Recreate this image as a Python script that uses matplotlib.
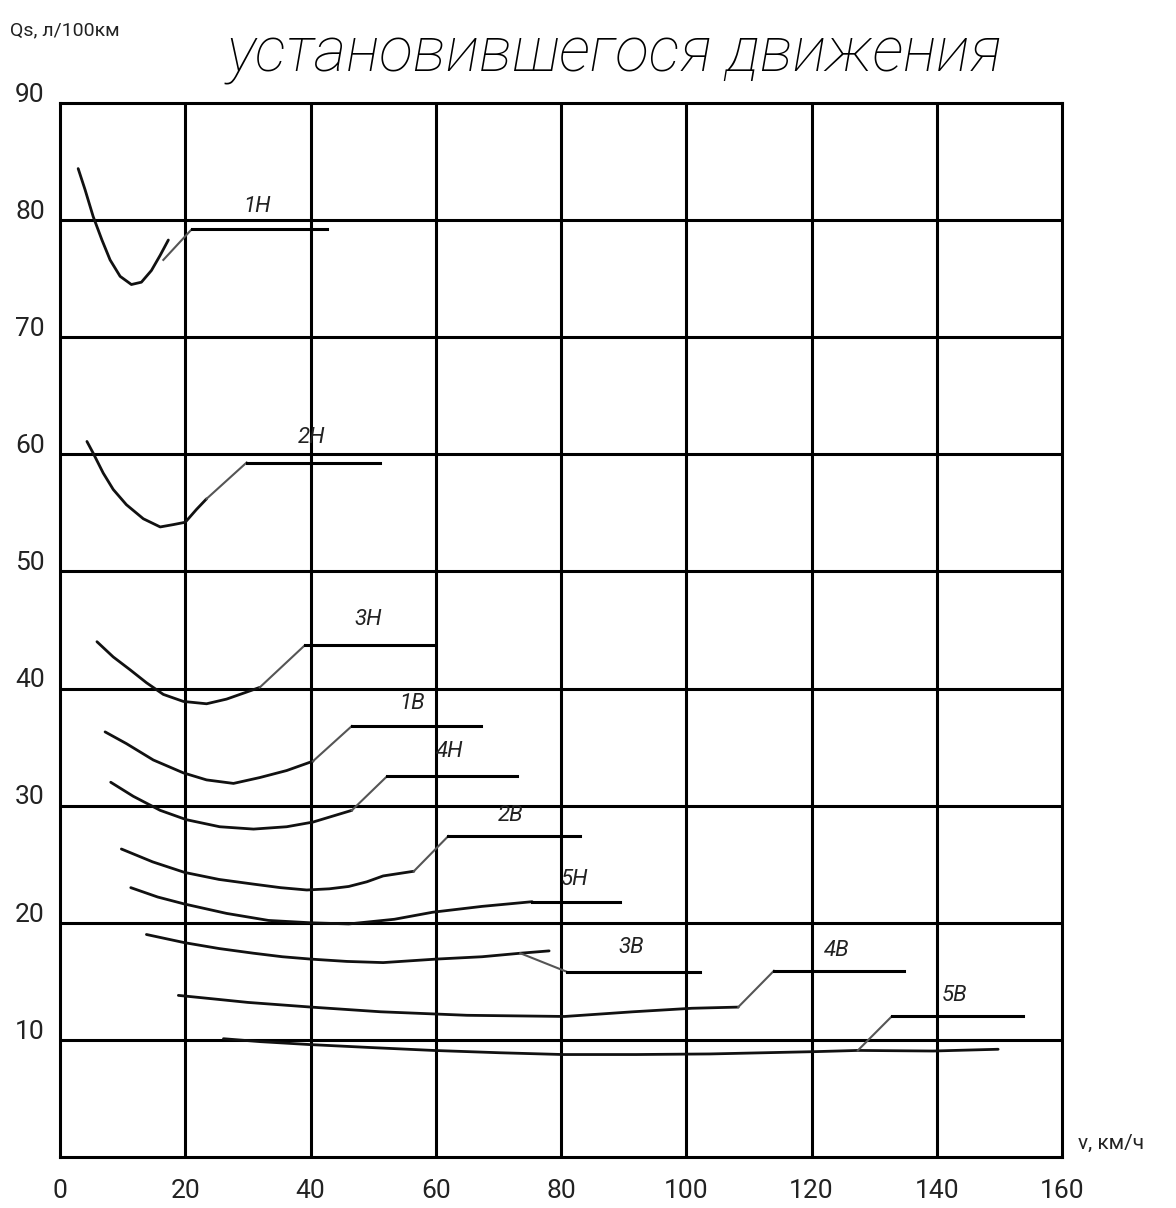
import matplotlib
matplotlib.use('Agg')
import matplotlib.pyplot as plt

plt.rcParams['font.family'] = ['Roboto', 'DejaVu Sans']

# скорость v, км/ч и расход Qs, л/100км для каждой передачи
v_1n = [2.9, 4.0, 5.3, 6.7, 8.0, 9.6, 11.4, 13.0, 14.6, 16.0, 17.3]
q_1n = [84.4, 82.6, 80.3, 78.3, 76.6, 75.2, 74.5, 74.7, 75.7, 77.0, 78.3]

v_2n = [4.3, 5.3, 6.9, 8.5, 10.6, 13.3, 16.0, 18.1, 20.0, 21.8, 23.4]
q_2n = [61.1, 60.1, 58.4, 57.0, 55.7, 54.5, 53.8, 54.0, 54.2, 55.3, 56.2]

v_3n = [5.9, 8.5, 11.2, 13.8, 16.5, 19.7, 23.4, 26.6, 29.8, 31.9]
q_3n = [44.0, 42.7, 41.6, 40.5, 39.5, 38.9, 38.7, 39.1, 39.7, 40.1]

v_1v = [7.2, 10.6, 14.9, 19.7, 23.4, 27.7, 31.9, 36.2, 40.4]
q_1v = [36.3, 35.3, 33.9, 32.8, 32.2, 31.9, 32.4, 33.0, 33.8]

v_4n = [8.1, 11.7, 16.0, 20.2, 25.5, 30.9, 36.2, 40.4, 46.6]
q_4n = [32.0, 30.8, 29.6, 28.8, 28.2, 28.0, 28.2, 28.6, 29.6]

v_2v = [9.8, 14.8, 19.9, 25.4, 30.9, 35.2, 39.4, 43.0, 46.1, 49.0, 51.6, 56.5]
q_2v = [26.3, 25.2, 24.3, 23.7, 23.3, 23.0, 22.8, 22.9, 23.1, 23.5, 24.0, 24.4]

v_5n = [11.3, 15.6, 19.9, 26.6, 33.3, 40.0, 46.1, 53.4, 59.5, 67.4, 75.4]
q_5n = [23.0, 22.2, 21.6, 20.8, 20.2, 20.0, 19.9, 20.3, 20.9, 21.4, 21.8]

v_3v = [13.8, 19.9, 25.4, 30.9, 35.5, 40.0, 45.8, 51.6, 60.1, 67.4, 73.5, 78.1]
q_3v = [19.0, 18.3, 17.8, 17.4, 17.1, 16.9, 16.7, 16.6, 16.9, 17.1, 17.4, 17.6]

v_4v = [18.9, 24.5, 30.0, 40.1, 51.2, 65.0, 80.6, 91.5, 100.9, 108.3]
q_4v = [13.8, 13.5, 13.2, 12.8, 12.4, 12.1, 12.0, 12.4, 12.7, 12.8]

v_5v = [26.1, 32.0, 39.9, 49.5, 59.6, 70.3, 80.3, 92.0, 103.8, 120.8, 127.4, 139.4, 149.8]
q_5v = [10.1, 9.85, 9.6, 9.35, 9.1, 8.9, 8.75, 8.75, 8.8, 9.0, 9.1, 9.05, 9.2]

curves = [(v_1n, q_1n), (v_2n, q_2n), (v_3n, q_3n), (v_1v, q_1v), (v_4n, q_4n),
          (v_2v, q_2v), (v_5n, q_5n), (v_3v, q_3v), (v_4v, q_4v), (v_5v, q_5v)]

labels = ['1Н', '2Н', '3Н', '1В', '4Н', '2В', '5Н', '3В', '4В', '5В']

# выноски: начало, излом, конец полки, место подписи
leaders = [
    ((16.5, 76.6), (21.0, 79.2), 42.6, (31.4, 81.2)),
    ((23.4, 56.2), (29.8, 59.3), 51.1, (40.2, 61.4)),
    ((31.9, 40.1), (39.1, 43.7), 59.9, (49.2, 45.9)),
    ((40.4, 33.8), (46.6, 36.8), 67.2, (56.2, 38.7)),
    ((46.6, 29.6), (52.2, 32.5), 72.9, (62.3, 34.6)),
    ((56.5, 24.4), (62.0, 27.4), 83.0, (71.9, 29.2)),
    ((75.4, 21.8), (75.4, 21.8), 89.4, (82.1, 23.7)),
    ((73.5, 17.4), (81.0, 15.8), 102.2, (91.2, 17.9)),
    ((108.3, 12.8), (114.0, 15.9), 134.8, (124.0, 17.6)),
    ((127.4, 9.1), (132.8, 12.0), 153.8, (142.8, 13.8)),
]

x_ticks = [0, 20, 40, 60, 80, 100, 120, 140, 160]
y_ticks = [10, 20, 30, 40, 50, 60, 70, 80, 90]

fig = plt.figure(figsize=(11.76, 12.08), dpi=100)
ax = fig.add_axes([60 / 1176, 51 / 1208, 1002 / 1176, 1054 / 1208])
ax.set_xlim(0, 160)
ax.set_ylim(0, 90)

for x in x_ticks[1:-1]:
    ax.axvline(x, color='black', lw=2.2, zorder=1)
for y in y_ticks[:-1]:
    ax.axhline(y, color='black', lw=2.2, zorder=1)
for s in ax.spines.values():
    s.set_linewidth(2.2)

ax.set_xticks(x_ticks)
ax.set_xticklabels([str(x) for x in x_ticks], fontsize=19, color='#222222')
ax.tick_params(axis='x', length=0, pad=16)
ax.set_yticks([])

for y in y_ticks:
    ax.text(-4.8, y + 0.7, str(y), fontsize=19, color='#222222',
            ha='center', va='center', clip_on=False)

for (v, q) in curves:
    ax.plot(v, q, color='#111111', lw=2.0, zorder=3, solid_capstyle='round')

for (p0, p1, xend, lpos), lab in zip(leaders, labels):
    ax.plot([p0[0], p1[0]], [p0[1], p1[1]], color='#555555', lw=1.5, zorder=3)
    ax.plot([p1[0], xend], [p1[1], p1[1]], color='black', lw=2.2, zorder=3)
    ax.text(lpos[0], lpos[1], lab, fontsize=16, style='italic', color='#222222',
            ha='center', va='center')

fig.text(615 / 1176, 1 - 55 / 1208, 'установившегося движения', fontsize=45,
         style='italic', fontweight='light', ha='center', va='center')
fig.text(10 / 1176, 1 - 30 / 1208, 'Qs, л/100км', fontsize=14, color='#222222',
         ha='left', va='center')
fig.text(1078 / 1176, 1 - 1143 / 1208, 'v, км/ч', fontsize=15, color='#222222',
         ha='left', va='center')

fig.savefig('out.png', dpi=100)
